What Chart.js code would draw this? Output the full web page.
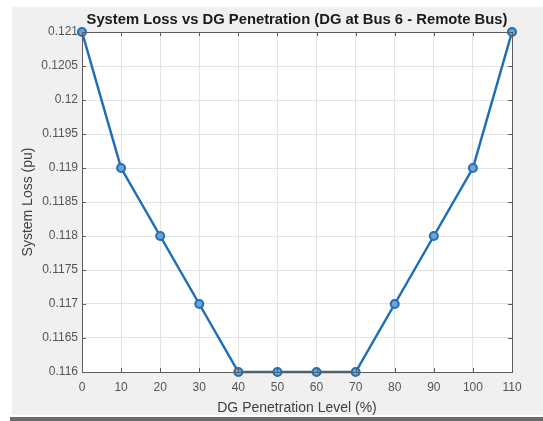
<!DOCTYPE html>
<html>
<head>
<meta charset="utf-8">
<script src="https://cdn.jsdelivr.net/npm/chart.js@4/dist/chart.umd.min.js"></script>
<style>
  html, body { margin: 0; padding: 0; background: #ffffff; }
  #wrap { position: relative; width: 543px; height: 421px; }
</style>
</head>
<body>
<div id="wrap"><canvas id="c" width="543" height="421"></canvas></div>
<script>
// Penetration levels (%) and the resulting system loss (pu)
const penetration = [0, 10, 20, 30, 40, 50, 60, 70, 80, 90, 100, 110];
const systemLoss = [0.121, 0.119, 0.118, 0.117, 0.116, 0.116, 0.116, 0.116, 0.117, 0.118, 0.119, 0.121];
const xTicks = [0, 10, 20, 30, 40, 50, 60, 70, 80, 90, 100, 110];
const yTicks = [0.116, 0.1165, 0.117, 0.1175, 0.118, 0.1185, 0.119, 0.1195, 0.12, 0.1205, 0.121];
const chartTitle = 'System Loss vs DG Penetration (DG at Bus 6 - Remote Bus)';

const FONT = '"Liberation Sans", Arial, Helvetica, sans-serif';

// Figure background, white axes face, boxed frame, inward tick marks and
// a title centred over the axes box
const framePlugin = {
  id: 'frame',
  beforeDraw(chart) {
    const ctx = chart.ctx;
    const a = chart.chartArea;
    ctx.save();
    ctx.fillStyle = '#ffffff';
    ctx.fillRect(0, 0, chart.width, chart.height);
    ctx.fillStyle = '#f0f0f0';
    ctx.fillRect(12, 7, chart.width - 12, 408);
    ctx.fillStyle = '#6b6b6b';
    ctx.fillRect(10, 417, chart.width - 10, 4);
    ctx.fillStyle = '#ffffff';
    ctx.fillRect(a.left, a.top, a.right - a.left, a.bottom - a.top);
    ctx.restore();
  },
  afterDatasetsDraw(chart) {
    const ctx = chart.ctx;
    const a = chart.chartArea;
    const xs = chart.scales.x, ys = chart.scales.y;
    ctx.save();
    ctx.strokeStyle = '#5c5c5c';
    ctx.lineWidth = 1;
    ctx.beginPath();
    xTicks.forEach(v => {
      const px = Math.round(xs.getPixelForValue(v)) + 0.5;
      ctx.moveTo(px, a.bottom); ctx.lineTo(px, a.bottom - 4);
      ctx.moveTo(px, a.top); ctx.lineTo(px, a.top + 4);
    });
    yTicks.forEach(v => {
      const py = Math.round(ys.getPixelForValue(v)) + 0.5;
      ctx.moveTo(a.left, py); ctx.lineTo(a.left + 4, py);
      ctx.moveTo(a.right, py); ctx.lineTo(a.right - 4, py);
    });
    ctx.stroke();
    ctx.strokeRect(Math.round(a.left) + 0.5, Math.round(a.top) + 0.5,
                   Math.round(a.right - a.left), Math.round(a.bottom - a.top));

    ctx.fillStyle = '#1a1a1a';
    ctx.font = 'bold 14.8px ' + FONT;
    ctx.textAlign = 'center';
    ctx.textBaseline = 'middle';
    ctx.fillText(chartTitle, (a.left + a.right) / 2, 20);
    ctx.restore();
  }
};

new Chart(document.getElementById('c'), {
  type: 'line',
  data: {
    datasets: [{
      data: penetration.map((x, i) => ({ x: x, y: systemLoss[i] })),
      borderColor: '#1f6fb5',
      backgroundColor: 'rgba(31,111,181,0.35)',
      borderWidth: 2.5,
      pointRadius: 4,
      pointBorderWidth: 2,
      pointBorderColor: '#1f6fb5',
      pointBackgroundColor: '#6fa3d4',
      tension: 0,
      clip: false
    }]
  },
  options: {
    responsive: false,
    animation: false,
    devicePixelRatio: 1,
    layout: { padding: { left: 0, right: 31, top: 32, bottom: 0 } },
    plugins: {
      legend: { display: false },
      tooltip: { enabled: false },
      title: { display: false }
    },
    scales: {
      x: {
        type: 'linear',
        min: 0, max: 110,
        afterFit(s) { s.height = 49; },
        afterBuildTicks(s) { s.ticks = xTicks.map(v => ({ value: v })); },
        border: { display: false },
        grid: { color: '#e3e3e3', drawTicks: false },
        ticks: {
          color: '#555555',
          padding: 8,
          maxRotation: 0,
          autoSkip: false,
          font: { family: FONT, size: 12 }
        },
        title: {
          display: true,
          text: 'DG Penetration Level (%)',
          color: '#404040',
          font: { family: FONT, size: 14 },
          padding: { top: 0, bottom: 4.6 }
        }
      },
      y: {
        type: 'linear',
        min: 0.116, max: 0.121,
        afterFit(s) { s.width = 82; },
        afterBuildTicks(s) { s.ticks = yTicks.map(v => ({ value: v })); },
        border: { display: false },
        grid: { color: '#e3e3e3', drawTicks: false },
        ticks: {
          color: '#555555',
          padding: 4,
          autoSkip: false,
          font: { family: FONT, size: 12 },
          callback: v => String(Number(v.toFixed(4)))
        },
        title: {
          display: true,
          text: 'System Loss (pu)',
          color: '#404040',
          font: { family: FONT, size: 14 },
          padding: { top: 19.6, bottom: 0 }
        }
      }
    }
  },
  plugins: [framePlugin]
});
</script>
</body>
</html>
